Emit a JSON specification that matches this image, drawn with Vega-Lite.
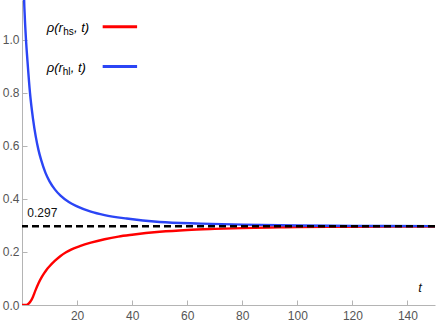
{
  "$schema": "https://vega.github.io/schema/vega-lite/v6.json",
  "width": 413,
  "height": 305,
  "autosize": {"type": "none"},
  "padding": {"left": 22, "top": 0, "right": 1, "bottom": 22},
  "background": "white",
  "config": {"view": {"stroke": null}, "font": "Liberation Sans"},
  "datasets": {
    "curves": [
      {"series": "hs", "t": 0, "rho": 0},
      {"series": "hs", "t": 1.5, "rho": 0},
      {"series": "hs", "t": 2, "rho": 0.002},
      {"series": "hs", "t": 2.5, "rho": 0.006},
      {"series": "hs", "t": 3, "rho": 0.012},
      {"series": "hs", "t": 3.5, "rho": 0.02},
      {"series": "hs", "t": 4, "rho": 0.031},
      {"series": "hs", "t": 4.5, "rho": 0.045},
      {"series": "hs", "t": 5, "rho": 0.058},
      {"series": "hs", "t": 6, "rho": 0.082},
      {"series": "hs", "t": 7, "rho": 0.102},
      {"series": "hs", "t": 8, "rho": 0.119},
      {"series": "hs", "t": 9, "rho": 0.134},
      {"series": "hs", "t": 10, "rho": 0.146},
      {"series": "hs", "t": 12, "rho": 0.167},
      {"series": "hs", "t": 14, "rho": 0.185},
      {"series": "hs", "t": 16, "rho": 0.199},
      {"series": "hs", "t": 18, "rho": 0.21},
      {"series": "hs", "t": 21, "rho": 0.222},
      {"series": "hs", "t": 25, "rho": 0.235},
      {"series": "hs", "t": 30, "rho": 0.248},
      {"series": "hs", "t": 35, "rho": 0.258},
      {"series": "hs", "t": 40, "rho": 0.265},
      {"series": "hs", "t": 50, "rho": 0.276},
      {"series": "hs", "t": 60, "rho": 0.283},
      {"series": "hs", "t": 70, "rho": 0.287},
      {"series": "hs", "t": 80, "rho": 0.29},
      {"series": "hs", "t": 90, "rho": 0.292},
      {"series": "hs", "t": 100, "rho": 0.294},
      {"series": "hs", "t": 120, "rho": 0.295},
      {"series": "hs", "t": 150, "rho": 0.296},
      {"series": "hl", "t": 0.6, "rho": 1.25},
      {"series": "hl", "t": 0.75, "rho": 1.16},
      {"series": "hl", "t": 1.0, "rho": 1.09},
      {"series": "hl", "t": 1.45, "rho": 1.0},
      {"series": "hl", "t": 2.0, "rho": 0.918},
      {"series": "hl", "t": 2.9, "rho": 0.8},
      {"series": "hl", "t": 4.0, "rho": 0.702},
      {"series": "hl", "t": 5.0, "rho": 0.635},
      {"series": "hl", "t": 6.0, "rho": 0.584},
      {"series": "hl", "t": 7.0, "rho": 0.545},
      {"series": "hl", "t": 8.5, "rho": 0.499},
      {"series": "hl", "t": 10, "rho": 0.466},
      {"series": "hl", "t": 12, "rho": 0.435},
      {"series": "hl", "t": 14, "rho": 0.412},
      {"series": "hl", "t": 17, "rho": 0.388},
      {"series": "hl", "t": 20, "rho": 0.372},
      {"series": "hl", "t": 25, "rho": 0.352},
      {"series": "hl", "t": 30, "rho": 0.339},
      {"series": "hl", "t": 38, "rho": 0.326},
      {"series": "hl", "t": 50, "rho": 0.313},
      {"series": "hl", "t": 65, "rho": 0.307},
      {"series": "hl", "t": 80, "rho": 0.303},
      {"series": "hl", "t": 100, "rho": 0.3},
      {"series": "hl", "t": 120, "rho": 0.2985},
      {"series": "hl", "t": 150, "rho": 0.2975}
    ],
    "legendLines": [
      {"series": "hs", "t1": 29.3, "t2": 41.8, "v": 1.049},
      {"series": "hl", "t1": 29.3, "t2": 41.8, "v": 0.899}
    ],
    "legendMain": [
      {"text": "ρ(r", "t": 8.97, "v": 1.043},
      {"text": ", t)", "t": 18.9, "v": 1.043},
      {"text": "ρ(r", "t": 8.97, "v": 0.892},
      {"text": ", t)", "t": 17.7, "v": 0.892}
    ],
    "legendSub": [
      {"text": "hs", "t": 15.0, "v": 1.043},
      {"text": "hl", "t": 14.8, "v": 0.892}
    ],
    "refLine": [{"v": 0.297}],
    "refLabel": [{"text": "0.297", "t": 1.93, "v": 0.348}],
    "axisLabel": [{"text": "t", "t": 144.6, "v": 0.063}]
  },
  "layer": [
    {
      "data": {"name": "curves"},
      "mark": {"type": "line", "strokeWidth": 2.4, "clip": true, "interpolate": "monotone"},
      "encoding": {
        "x": {
          "field": "t", "type": "quantitative",
          "scale": {"domain": [0, 150], "nice": false, "zero": false},
          "axis": {
            "values": [0,5,10,15,20,25,30,35,40,45,50,55,60,65,70,75,80,85,90,95,100,105,110,115,120,125,130,135,140,145,150],
            "format": "d",
            "labelExpr": "datum.value % 20 === 0 && datum.value > 0 ? datum.label : ''",
            "title": null, "grid": false,
            "domainColor": "#b4b4b4", "tickColor": "#b4b4b4",
            "tickSize": {"condition": {"test": "datum.value % 20 === 0", "value": -5}, "value": -3},
            "labelPadding": 10, "labelColor": "#555555", "labelFontSize": 12,
            "labelFont": "Liberation Sans", "labelFlush": false, "labelOverlap": false
          }
        },
        "y": {
          "field": "rho", "type": "quantitative",
          "scale": {"domain": [0, 1.15], "nice": false},
          "axis": {
            "values": [0,0.05,0.1,0.15,0.2,0.25,0.3,0.35,0.4,0.45,0.5,0.55,0.6,0.65,0.7,0.75,0.8,0.85,0.9,0.95,1.0,1.05,1.1,1.15],
            "labelExpr": "abs(datum.value*5 - round(datum.value*5)) < 0.001 ? format(datum.value, '.1f') : ''",
            "title": null, "grid": false,
            "domainColor": "#b4b4b4", "tickColor": "#b4b4b4",
            "tickSize": {"condition": {"test": "abs(datum.value*5 - round(datum.value*5)) < 0.001", "value": -5}, "value": -3},
            "labelPadding": 8, "labelColor": "#555555", "labelFontSize": 12,
            "labelFont": "Liberation Sans", "labelFlush": false, "labelOverlap": false
          }
        },
        "color": {
          "field": "series", "type": "nominal",
          "scale": {"domain": ["hs", "hl"], "range": ["#ff0000", "#2b45f5"]},
          "legend": null
        }
      }
    },
    {
      "data": {"name": "refLine"},
      "mark": {"type": "rule", "color": "black", "strokeWidth": 2.3, "strokeDash": [7, 4]},
      "encoding": {"y": {"field": "v", "type": "quantitative"}}
    },
    {
      "data": {"name": "legendLines"},
      "mark": {"type": "rule", "strokeWidth": 3},
      "encoding": {
        "x": {"field": "t1", "type": "quantitative"},
        "x2": {"field": "t2"},
        "y": {"field": "v", "type": "quantitative"},
        "color": {"field": "series", "type": "nominal"}
      }
    },
    {
      "data": {"name": "legendMain"},
      "mark": {"type": "text", "align": "left", "baseline": "middle", "fontSize": 13, "fontStyle": "italic", "font": "Liberation Sans", "color": "#000000"},
      "encoding": {
        "x": {"field": "t", "type": "quantitative"},
        "y": {"field": "v", "type": "quantitative"},
        "text": {"field": "text"}
      }
    },
    {
      "data": {"name": "legendSub"},
      "mark": {"type": "text", "align": "left", "baseline": "middle", "fontSize": 10, "dy": 4, "font": "Liberation Sans", "color": "#000000"},
      "encoding": {
        "x": {"field": "t", "type": "quantitative"},
        "y": {"field": "v", "type": "quantitative"},
        "text": {"field": "text"}
      }
    },
    {
      "data": {"name": "refLabel"},
      "mark": {"type": "text", "align": "left", "baseline": "middle", "fontSize": 12, "font": "Liberation Sans", "color": "#111111"},
      "encoding": {
        "x": {"field": "t", "type": "quantitative"},
        "y": {"field": "v", "type": "quantitative"},
        "text": {"field": "text"}
      }
    },
    {
      "data": {"name": "axisLabel"},
      "mark": {"type": "text", "align": "center", "baseline": "middle", "fontSize": 13, "fontStyle": "italic", "font": "Liberation Sans", "color": "#111111"},
      "encoding": {
        "x": {"field": "t", "type": "quantitative"},
        "y": {"field": "v", "type": "quantitative"},
        "text": {"field": "text"}
      }
    }
  ]
}
